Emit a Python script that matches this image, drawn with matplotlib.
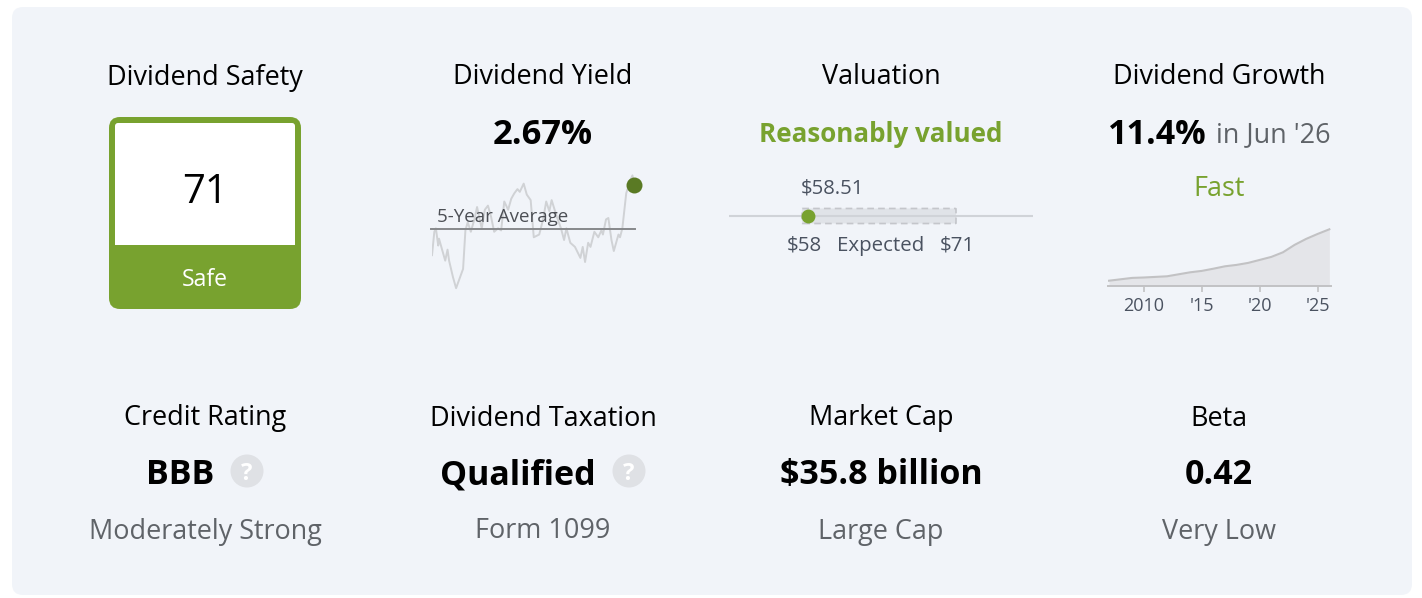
# -*- coding: utf-8 -*-
import matplotlib
matplotlib.use('Agg')
import matplotlib.pyplot as plt
from matplotlib.patches import FancyBboxPatch, Circle, Rectangle

plt.rcParams['font.family'] = ['Open Sans', 'DejaVu Sans']

W = 1422
H = 598

#colors
BG = '#f1f4f9'
GREEN = '#78a22f'
DARK_GREEN = '#5a7a24'
BLACK = '#000000'
GREY = '#5f6368'
SLATE = '#4a5260'

#dividend yield, weekly over five years
yield_weeks = [0, 3, 5, 8, 9, 12, 17, 20, 22, 27, 31, 40, 43, 46, 50, 55, 58, 61, 64, 68,
               72, 76, 80, 85, 89, 93, 98, 102, 106, 110, 113, 118, 122, 127, 131, 138,
               143, 147, 151, 154, 160, 166, 170, 173, 178, 184, 191, 194, 197, 201, 204,
               209, 214, 218, 220, 224, 227, 231, 234, 240, 242, 245, 250, 255, 258]
yield_values = [2.16, 2.33, 2.355, 2.23, 2.28, 2.22, 2.12, 2.20, 2.12, 2.00, 1.92, 2.06,
                2.34, 2.40, 2.33, 2.43, 2.51, 2.43, 2.355, 2.49, 2.52, 2.44, 2.33, 2.355,
                2.34, 2.55, 2.49, 2.57, 2.61, 2.64, 2.62, 2.68, 2.60, 2.56, 2.29, 2.31,
                2.42, 2.55, 2.48, 2.56, 2.45, 2.355, 2.27, 2.355, 2.25, 2.22, 2.14, 2.22,
                2.11, 2.25, 2.22, 2.33, 2.29, 2.34, 2.31, 2.42, 2.43, 2.27, 2.19, 2.31,
                2.29, 2.355, 2.61, 2.70, 2.74]
yield_average = 2.35
yield_now_week = 260
yield_now = 2.67

#valuation range
price_now = 58.51
price_low = 58
price_high = 71

#annual dividend per share
growth_years = list(range(2007, 2027))
growth_values = [0.28, 0.35, 0.42, 0.44, 0.47, 0.50, 0.60, 0.70, 0.77, 0.88, 1.00, 1.07,
                 1.17, 1.32, 1.47, 1.70, 2.07, 2.37, 2.62, 2.85]
growth_ticks = [2010, 2015, 2020, 2025]
growth_labels = ['2010', "'15", "'20", "'25"]

#column centers
COL = [205, 543, 881, 1219]
TOP_TITLES = ['Dividend Safety', 'Dividend Yield', 'Valuation', 'Dividend Growth']
BOTTOM_TITLES = ['Credit Rating', 'Dividend Taxation', 'Market Cap', 'Beta']
BOTTOM_VALUES = ['BBB', 'Qualified', '$35.8 billion', '0.42']
BOTTOM_NOTES = ['Moderately Strong', 'Form 1099', 'Large Cap', 'Very Low']
BOTTOM_X = [180, 518, 881, 1219]


def sub_axes(fig, left, top, right, bottom):
    ax = fig.add_axes([left / W, 1 - bottom / H, (right - left) / W, (bottom - top) / H])
    ax.patch.set_alpha(0)
    return ax


def px(size):
    return size * 0.72


fig = plt.figure(figsize=(W / 100, H / 100), dpi=100, facecolor='white')
main = fig.add_axes([0, 0, 1, 1])
main.set_xlim(0, W)
main.set_ylim(H, 0)
main.axis('off')

main.add_patch(FancyBboxPatch((12, 7), 1400, 588, boxstyle='round,pad=0,rounding_size=11',
                              fc=BG, ec='none'))


def label(x, y, s, size=27, color=BLACK, weight='normal', ha='center', target=None):
    target = target if target is not None else main
    target.text(x, y, s, fontsize=px(size), color=color, fontweight=weight,
                ha=ha, va='center_baseline', transform=main.transData, zorder=6)


for x, s in zip(COL, TOP_TITLES):
    label(x, 74, s, size=27)
for x, s in zip(COL, BOTTOM_TITLES):
    label(x, 415, s, size=27)
for x, s in zip(BOTTOM_X, BOTTOM_VALUES):
    label(x, 471, s, size=34, weight='bold')
for x, s in zip(COL, BOTTOM_NOTES):
    label(x, 528, s, size=27, color=GREY)

#question mark badges
for x in [247, 629]:
    main.add_patch(Circle((x, 471), 16.5, fc='#dfe1e5', ec='none'))
    label(x, 471, '?', size=24, color='white', weight='bold')

#safety card
main.add_patch(FancyBboxPatch((109, 117), 192, 192, boxstyle='round,pad=0,rounding_size=11',
                              fc=GREEN, ec='none'))
main.add_patch(FancyBboxPatch((115, 123), 180, 122, boxstyle='round,pad=0,rounding_size=3',
                              fc='white', ec='none'))
main.add_patch(Rectangle((115, 235), 180, 10, fc='white', ec='none'))
label(205, 188, '71', size=40)
label(205, 277, 'Safe', size=23, color='white')

#dividend yield
label(543, 131, '2.67%', size=34.5, weight='bold')
ax = sub_axes(fig, 432, 170, 634, 300)
ax.set_xlim(0, 260)
ax.set_ylim(1.834, 2.779)
ax.axis('off')
ax.plot(yield_weeks + [yield_now_week], yield_values + [yield_now], color='#d0d2d5', lw=1.4,
        solid_joinstyle='round', zorder=1)
ax.plot([-1, 261], [yield_average, yield_average], color='#87898c', lw=1.4, clip_on=False, zorder=2)
ax.plot([yield_now_week], [yield_now], 'o', ms=11.5, color=DARK_GREEN, mec='none', clip_on=False, zorder=3)
label(437, 215, '5-Year Average', size=18.8, color='#4c4f55', ha='left', target=ax)

#valuation
label(881, 132, 'Reasonably valued', size=26, color=GREEN, weight='bold')
ax = sub_axes(fig, 729, 200, 1033, 232)
ax.set_xlim(51.84, 77.50)
ax.set_ylim(-1, 1)
ax.axis('off')
ax.axhline(0, color='#d0d3d8', lw=1.5, zorder=3)
ax.add_patch(FancyBboxPatch((price_low, -0.47), price_high - price_low, 0.94,
                            boxstyle='round,pad=0,rounding_size=0.12', mutation_aspect=0.17,
                            fc='#c8cacf', alpha=0.4, ec='none', zorder=2))
ax.add_patch(FancyBboxPatch((price_low, -0.47), price_high - price_low, 0.94,
                            boxstyle='round,pad=0,rounding_size=0.12', mutation_aspect=0.17,
                            fc='none', ec='#c4c6cb', lw=1.2, ls=(0, (4, 2.5)), zorder=3))
ax.plot([price_now], [0], 'o', ms=10, color=GREEN, mec='none', zorder=4)
label(832, 186, '$%.2f' % price_now, size=20.3, color=SLATE)
label(804, 243, '$%d' % price_low, size=20.5, color=SLATE)
label(881, 243, 'Expected', size=20.5, color=SLATE)
label(957, 243, '$%d' % price_high, size=20.5, color=SLATE)

#dividend growth
label(1108, 131, '11.4%', size=34, weight='bold', ha='left')
label(1216, 132, "in Jun '26", size=27, color=GREY, ha='left')
label(1219, 185, 'Fast', size=27, color=GREEN)
ax = sub_axes(fig, 1107.5, 215, 1330.5, 286.3)
ax.set_xlim(2006.87, 2026.1)
ax.set_ylim(0, 3.565)
ax.fill_between(growth_years, growth_values, 0, color='#e4e5e9', lw=0)
ax.plot(growth_years, growth_values, color='#c2c2c4', lw=1.5)
for side in ['top', 'left', 'right']:
    ax.spines[side].set_visible(False)
ax.spines['bottom'].set_color('#c2c2c4')
ax.spines['bottom'].set_linewidth(1.4)
ax.set_yticks([])
ax.set_xticks(growth_ticks)
ax.set_xticklabels(growth_labels, fontsize=px(18), color=SLATE)
ax.tick_params(axis='x', length=4, width=1.2, color='#c2c2c4', pad=4)

fig.savefig('out.png', dpi=100, facecolor='white')
